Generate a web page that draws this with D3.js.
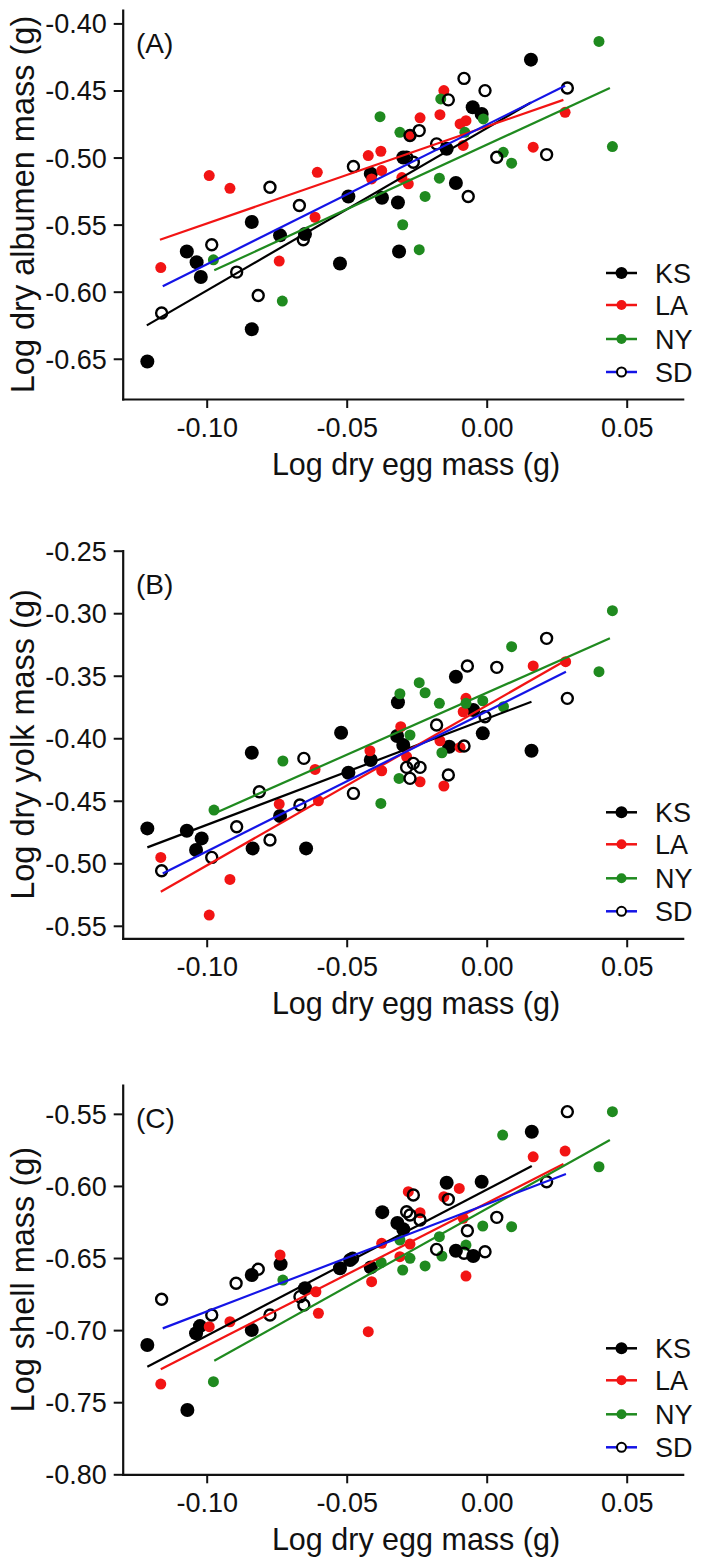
<!DOCTYPE html>
<html><head><meta charset="utf-8">
<script src="https://cdn.jsdelivr.net/npm/d3@7"></script>
<style>body{margin:0;background:#fff} text{font-family:"Liberation Sans",Arial,sans-serif;fill:#111}</style>
</head><body>
<svg id="c" width="706" height="1562"></svg>
<script>
// ---------- data ----------
const seriesNames = ["KS","LA","NY","SD"];
const xTicks = [-0.10,-0.05,0.00,0.05];
const xTickLabels = ["-0.10","-0.05","0.00","0.05"];
const xDomain = [-0.13,0.07];

const yTicksA = [-0.65,-0.60,-0.55,-0.50,-0.45,-0.40];
const yTickLabelsA = ["-0.65","-0.60","-0.55","-0.50","-0.45","-0.40"];
const yTicksB = [-0.55,-0.50,-0.45,-0.40,-0.35,-0.30,-0.25];
const yTickLabelsB = ["-0.55","-0.50","-0.45","-0.40","-0.35","-0.30","-0.25"];
const yTicksC = [-0.80,-0.75,-0.70,-0.65,-0.60,-0.55];
const yTickLabelsC = ["-0.80","-0.75","-0.70","-0.65","-0.60","-0.55"];

// Panel A: albumen
const ksA = [[-0.1212,-0.652],[-0.1071,-0.570],[-0.1036,-0.578],[-0.1021,-0.589],[-0.0839,-0.548],[-0.0839,-0.628],[-0.0738,-0.558],[-0.0649,-0.557],[-0.0524,-0.579],[-0.0494,-0.529],[-0.0414,-0.512],[-0.0374,-0.530],[-0.0317,-0.5335],[-0.0313,-0.570],[-0.0298,-0.500],[-0.0143,-0.4935],[-0.011,-0.519],[-0.005,-0.4625],[-0.0018,-0.4675],[0.0158,-0.427]];
const laA = [[-0.1164,-0.582],[-0.0991,-0.5134],[-0.0917,-0.5229],[-0.0741,-0.5772],[-0.0613,-0.5445],[-0.0605,-0.511],[-0.0423,-0.4985],[-0.0378,-0.4953],[-0.0375,-0.5097],[-0.0411,-0.5159],[-0.0303,-0.5149],[-0.028,-0.5196],[-0.0274,-0.4836],[-0.0238,-0.4704],[-0.0167,-0.468],[-0.0153,-0.4501],[-0.0095,-0.4749],[-0.0074,-0.4725],[-0.0084,-0.491],[0.0166,-0.4923],[0.028,-0.4663]];
const nyA = [[-0.0976,-0.5762],[-0.073,-0.607],[-0.0381,-0.4695],[-0.031,-0.4812],[-0.03,-0.5501],[-0.0241,-0.5687],[-0.022,-0.529],[-0.0169,-0.5154],[-0.0164,-0.4563],[-0.0078,-0.4812],[-0.0012,-0.4712],[0.0059,-0.4961],[0.0089,-0.5042],[0.0401,-0.4134],[0.0449,-0.4918]];
const sdA = [[-0.1161,-0.6159],[-0.0982,-0.565],[-0.0893,-0.5854],[-0.0816,-0.6028],[-0.0774,-0.5221],[-0.0669,-0.5357],[-0.0655,-0.5613],[-0.0476,-0.5067],[-0.0274,-0.4836],[-0.0241,-0.4799],[-0.0286,-0.4998],[-0.0262,-0.5035],[-0.0179,-0.4898],[-0.0137,-0.457],[-0.0081,-0.441],[-0.0006,-0.4501],[0.0036,-0.4998],[-0.0066,-0.529],[0.0214,-0.4978],[0.0288,-0.4481]];
const fitsA = [[-0.1214,-0.6251,0.0158,-0.459],[-0.1167,-0.5613,0.0274,-0.457],[-0.0973,-0.5841,0.044,-0.4481],[-0.1157,-0.596,0.028,-0.4464]];

// Panel B: yolk
const ksB = [[-0.1212,-0.4721],[-0.1071,-0.474],[-0.1018,-0.4801],[-0.1038,-0.4894],[-0.0839,-0.4116],[-0.0836,-0.4881],[-0.0738,-0.4622],[-0.0645,-0.4881],[-0.052,-0.3956],[-0.0494,-0.4276],[-0.0414,-0.4174],[-0.0317,-0.3712],[-0.032,-0.3982],[-0.0298,-0.4054],[-0.011,-0.3508],[-0.0134,-0.4068],[-0.0048,-0.3774],[-0.0014,-0.3961],[0.016,-0.41]];
const laB = [[-0.1164,-0.4953],[-0.0991,-0.5414],[-0.0917,-0.5129],[-0.0741,-0.4526],[-0.0613,-0.4249],[-0.0601,-0.45],[-0.0417,-0.41],[-0.0375,-0.426],[-0.0307,-0.3908],[-0.0286,-0.4148],[-0.0238,-0.4348],[-0.0167,-0.402],[-0.0153,-0.4382],[-0.0095,-0.4073],[-0.0074,-0.3681],[-0.0084,-0.3788],[0.0166,-0.3422],[0.0282,-0.3388]];
const nyB = [[-0.0974,-0.4574],[-0.0728,-0.4182],[-0.0378,-0.4521],[-0.031,-0.3644],[-0.0274,-0.3974],[-0.0313,-0.4321],[-0.0241,-0.3556],[-0.022,-0.3636],[-0.0169,-0.3721],[-0.016,-0.4116],[-0.0074,-0.3721],[-0.0014,-0.37],[0.006,-0.3748],[0.0089,-0.3268],[0.0449,-0.298],[0.0401,-0.3468]];
const sdB = [[-0.1161,-0.506],[-0.0982,-0.4953],[-0.0893,-0.4708],[-0.0812,-0.4428],[-0.0774,-0.4814],[-0.0667,-0.4534],[-0.0653,-0.4161],[-0.0476,-0.4441],[-0.0286,-0.4233],[-0.0262,-0.4201],[-0.0238,-0.4233],[-0.0274,-0.4321],[-0.0179,-0.3894],[-0.0137,-0.4294],[-0.0081,-0.4062],[-0.0069,-0.3422],[0.0036,-0.3433],[-0.0006,-0.3828],[0.0214,-0.3201],[0.0288,-0.3681]];
const fitsB = [[-0.1212,-0.4873,0.016,-0.3708],[-0.1164,-0.5228,0.028,-0.338],[-0.0973,-0.4601,0.044,-0.3201],[-0.1157,-0.5081,0.0283,-0.3468]];

// Panel C: shell
const ksC = [[-0.1212,-0.7103],[-0.1069,-0.7554],[-0.1038,-0.7022],[-0.1024,-0.6972],[-0.0839,-0.6999],[-0.0839,-0.6618],[-0.0736,-0.6542],[-0.0649,-0.671],[-0.0524,-0.6571],[-0.0488,-0.6514],[-0.0414,-0.6565],[-0.0373,-0.6182],[-0.0319,-0.6257],[-0.0298,-0.630],[-0.0143,-0.5978],[-0.011,-0.645],[-0.0048,-0.6486],[-0.0018,-0.5971],[0.0161,-0.5624]];
const laC = [[-0.1164,-0.7374],[-0.0991,-0.6976],[-0.0917,-0.6942],[-0.0738,-0.6479],[-0.061,-0.6734],[-0.0601,-0.6883],[-0.0423,-0.7011],[-0.0411,-0.6664],[-0.0375,-0.6398],[-0.031,-0.6491],[-0.028,-0.604],[-0.0238,-0.6186],[-0.0274,-0.6403],[-0.0153,-0.6075],[-0.0098,-0.6017],[-0.0084,-0.6225],[-0.0074,-0.6625],[0.0166,-0.5798],[0.028,-0.5758]];
const nyC = [[-0.0976,-0.7358],[-0.0728,-0.6653],[-0.0377,-0.6531],[-0.03,-0.6583],[-0.0274,-0.6502],[-0.031,-0.6375],[-0.022,-0.6555],[-0.0169,-0.6352],[-0.016,-0.6486],[-0.0074,-0.641],[-0.0014,-0.6278],[0.0089,-0.6283],[0.0057,-0.5647],[0.0449,-0.5485],[0.0401,-0.5867]];
const sdC = [[-0.1161,-0.6786],[-0.0982,-0.6895],[-0.0895,-0.6675],[-0.0816,-0.6578],[-0.0774,-0.6895],[-0.0667,-0.6768],[-0.0653,-0.6826],[-0.0479,-0.6502],[-0.0286,-0.6179],[-0.0262,-0.6063],[-0.0274,-0.6202],[-0.0238,-0.6236],[-0.0179,-0.644],[-0.0137,-0.6093],[-0.0069,-0.6311],[-0.0081,-0.6467],[-0.0006,-0.6456],[0.0036,-0.6218],[0.0214,-0.5971],[0.0288,-0.5485]];
const fitsC = [[-0.1212,-0.7254,0.0161,-0.5862],[-0.1164,-0.7272,0.0274,-0.5848],[-0.0973,-0.7212,0.044,-0.5682],[-0.1157,-0.6988,0.0283,-0.5917]];

// ---------- styles ----------
const styles = [
  {fill:"#000", stroke:"none", r:7, sw:0, line:"#000", lr:6},
  {fill:"#f21414", stroke:"none", r:5.5, sw:0, line:"#f21414", lr:5},
  {fill:"#1f8a1f", stroke:"none", r:5.5, sw:0, line:"#1f8a1f", lr:5},
  {fill:"none", stroke:"#000", r:5.5, sw:2.4, line:"#1414e6", lr:4.5}
];

const panels = [
  {label:"(A)", ylabel:"Log dry albumen mass (g)", top:10, bottom:399, domain:[-0.68,-0.39], ticks:yTicksA, tickLabels:yTickLabelsA, data:[ksA,laA,nyA,sdA], fits:fitsA},
  {label:"(B)", ylabel:"Log dry yolk mass (g)", top:550.7, bottom:938.3, domain:[-0.56,-0.25], ticks:yTicksB, tickLabels:yTickLabelsB, data:[ksB,laB,nyB,sdB], fits:fitsB},
  {label:"(C)", ylabel:"Log shell mass (g)", top:1085, bottom:1474.3, domain:[-0.80,-0.53], ticks:yTicksC, tickLabels:yTickLabelsC, data:[ksC,laC,nyC,sdC], fits:fitsC}
];

const svg = d3.select("#c");
const left = 122.7, right = 682.7;
const x = d3.scaleLinear().domain(xDomain).range([left, right]);
const tickFont = 27;

panels.forEach(p => {
  const y = d3.scaleLinear().domain(p.domain).range([p.bottom, p.top]);
  const g = svg.append("g");

  const gx = g.append("g").attr("transform", `translate(0,${p.bottom})`)
    .call(d3.axisBottom(x).tickValues(xTicks).tickFormat((d,i)=>xTickLabels[i]).tickSize(9).tickSizeOuter(0));
  gx.selectAll("text").attr("y", 38).attr("dy", 0).style("font-size", tickFont+"px");
  const gy = g.append("g").attr("transform", `translate(${left},0)`)
    .call(d3.axisLeft(y).tickValues(p.ticks).tickFormat((d,i)=>p.tickLabels[i]).tickSize(9).tickPadding(7).tickSizeOuter(0));
  gy.selectAll("text").attr("dy", "0.35em").style("font-size", tickFont+"px");
  [gx, gy].forEach(a => {
    a.select(".domain").attr("stroke", "#111").attr("stroke-width", 2.2).attr("stroke-linecap","square");
    a.selectAll(".tick line").attr("stroke", "#111").attr("stroke-width", 2);
  });

  p.data.forEach((pts, si) => {
    const s = styles[si];
    g.append("g").selectAll("circle").data(pts).join("circle")
      .attr("cx", d => x(d[0])).attr("cy", d => y(d[1])).attr("r", s.r)
      .attr("fill", s.fill).attr("stroke", s.stroke).attr("stroke-width", s.sw);
  });
  p.fits.forEach((f, si) => {
    g.append("line").attr("x1", x(f[0])).attr("y1", y(f[1])).attr("x2", x(f[2])).attr("y2", y(f[3]))
      .attr("stroke", styles[si].line).attr("stroke-width", 2.2);
  });

  g.append("text").attr("x", 136).attr("y", p.top + 43).style("font-size", "28px").text(p.label);

  g.append("text").attr("transform", `translate(34,${(p.top+p.bottom)/2}) rotate(-90)`)
    .attr("text-anchor", "middle").style("font-size", "32.5px").text(p.ylabel);
  g.append("text").attr("x", 416).attr("y", p.bottom + 76).attr("text-anchor", "middle")
    .style("font-size", "30.5px").text("Log dry egg mass (g)");

  const offs = [126, 94, 60, 27];
  seriesNames.forEach((n, si) => {
    const s = styles[si];
    const ly = p.bottom - offs[si];
    g.append("line").attr("x1", 606).attr("x2", 637).attr("y1", ly).attr("y2", ly)
      .attr("stroke", s.line).attr("stroke-width", 2.5);
    g.append("circle").attr("cx", 621.5).attr("cy", ly).attr("r", s.lr)
      .attr("fill", si === 3 ? "#fff" : s.fill).attr("stroke", s.stroke).attr("stroke-width", si === 3 ? 2 : 0);
    g.append("text").attr("x", 655).attr("y", ly + 9.7).style("font-size", tickFont+"px").text(n);
  });
});
</script>
</body></html>
